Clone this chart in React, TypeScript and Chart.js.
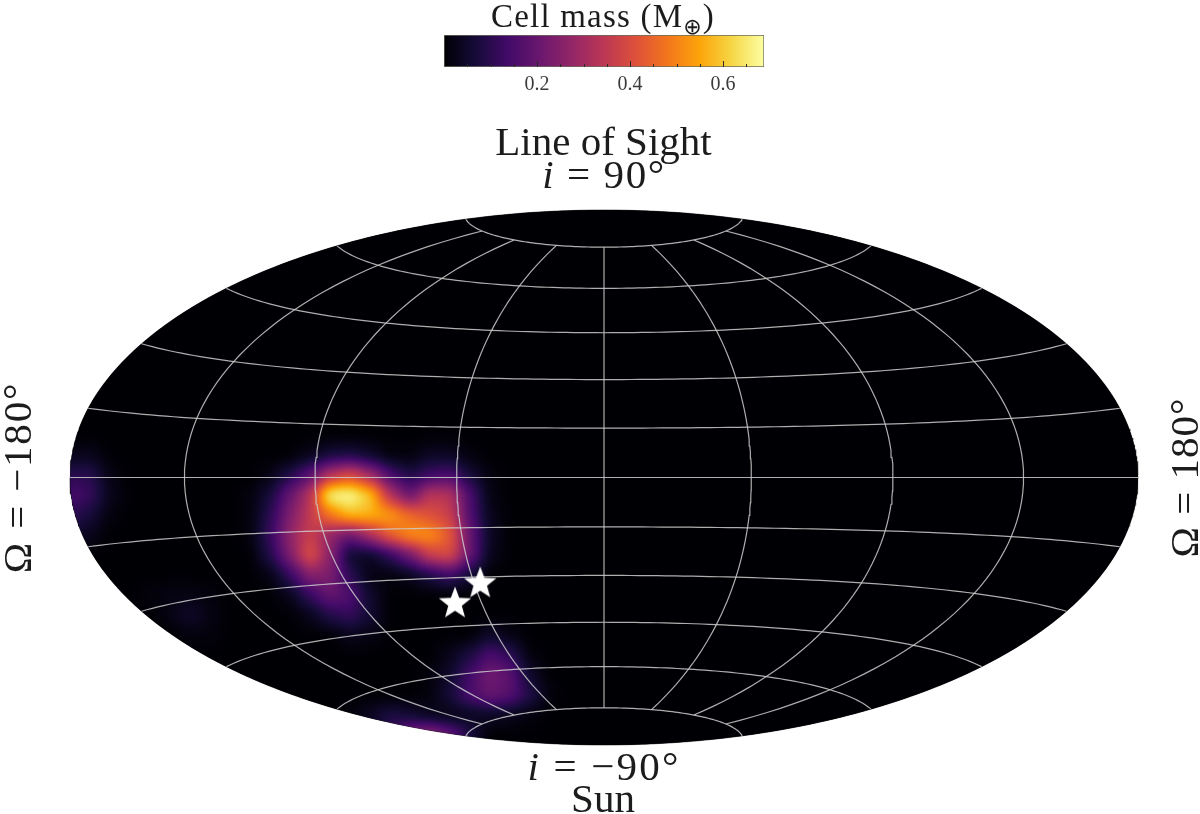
import React, { useEffect, useRef } from "react";
import { Chart, registerables } from "chart.js";

Chart.register(...registerables);

const FONT = '"Liberation Serif", serif';
const TEXT = "#1c1c1c";

// Colour bar
const cbarMin = 0;
const cbarMax = 0.688;
const inferno: number[][] = [
  [0, 0, 4], [22, 11, 57], [66, 10, 104], [106, 23, 110], [147, 38, 103], [188, 55, 84],
  [221, 81, 58], [243, 118, 27], [252, 165, 10], [246, 215, 70], [252, 255, 164],
];

// Graticule (degrees)
const latLines = [-75, -60, -45, -30, -15, 0, 15, 30, 45, 60, 75];
const lonLines = [-135, -90, -45, 0, 45, 90, 135];
const lonCapDeg = 75;

// Two stars (Omega, i in degrees)
const starLon = [-42.9, -54.9];
const starLat = [-32.0, -37.9];

// Heat-map cell centres in normalised projection coordinates
const heatU = [-1.0, -0.9625, -0.9251, -0.8876, -0.8502, -0.8127, -0.7753, -0.7378, -0.7004, -0.6629, -0.6255, -0.588, -0.5506, -0.5131, -0.4757, -0.4382, -0.4007, -0.3633, -0.3258, -0.2884, -0.2509, -0.2135, -0.176, -0.1386, -0.1011, -0.0637];
const heatV = [0.0841, 0.0093, -0.0654, -0.1402, -0.215, -0.2897, -0.3645, -0.4393, -0.514, -0.5888, -0.6636, -0.7383, -0.8131, -0.8879, -0.9626];

// Cell mass, one row per heatV, one column per heatU
const heatRows: number[][] = [
  [0.03, 0.03, 0, 0, 0, 0, 0, 0, 0, 0, 0, 0, 0.03, 0.07, 0.08, 0.05, 0.01, 0.01, 0.04, 0.04, 0.01, 0, 0, 0, 0, 0],
  [0.1, 0.1, 0.02, 0, 0, 0, 0, 0, 0, 0, 0.02, 0.09, 0.18, 0.33, 0.4, 0.3, 0.15, 0.08, 0.13, 0.15, 0.07, 0.01, 0, 0, 0, 0],
  [0.15, 0.12, 0.03, 0, 0, 0, 0, 0, 0, 0.01, 0.07, 0.2, 0.33, 0.68, 0.98, 0.6, 0.33, 0.2, 0.34, 0.33, 0.15, 0.02, 0, 0, 0, 0],
  [0.11, 0.07, 0.01, 0, 0, 0, 0, 0, 0, 0.01, 0.1, 0.24, 0.35, 0.48, 0.58, 0.57, 0.54, 0.46, 0.41, 0.37, 0.16, 0.03, 0, 0, 0, 0],
  [0.05, 0.03, 0, 0, 0, 0, 0, 0, 0, 0.01, 0.12, 0.27, 0.37, 0.27, 0.2, 0.31, 0.44, 0.52, 0.52, 0.43, 0.2, 0.04, 0, 0, 0, 0],
  [0, 0, 0, 0, 0, 0, 0, 0, 0, 0, 0.09, 0.24, 0.41, 0.26, 0.05, 0.04, 0.11, 0.22, 0.37, 0.4, 0.2, 0.03, 0, 0, 0, 0],
  [0, 0, 0, 0, 0, 0, 0, 0, 0, 0, 0.02, 0.12, 0.25, 0.24, 0.1, 0.02, 0.01, 0.03, 0.08, 0.13, 0.06, 0, 0, 0, 0, 0],
  [0, 0, 0, 0, 0.01, 0.02, 0.02, 0.01, 0, 0, 0, 0.03, 0.12, 0.2, 0.16, 0.05, 0, 0, 0, 0, 0, 0, 0, 0, 0, 0],
  [0, 0, 0, 0, 0, 0.02, 0.05, 0.02, 0, 0, 0, 0, 0.03, 0.09, 0.12, 0.06, 0, 0, 0, 0, 0, 0, 0, 0, 0, 0],
  [0, 0, 0, 0, 0, 0, 0.01, 0.01, 0, 0, 0, 0, 0, 0, 0.03, 0.02, 0, 0, 0, 0, 0, 0.05, 0.02, 0, 0, 0],
  [0, 0, 0, 0, 0, 0, 0, 0, 0, 0, 0, 0, 0, 0, 0, 0, 0, 0, 0, 0.03, 0.08, 0.15, 0.11, 0.01, 0, 0],
  [0, 0, 0, 0, 0, 0, 0, 0, 0, 0, 0, 0, 0, 0, 0, 0, 0, 0, 0.01, 0.05, 0.14, 0.22, 0.18, 0.05, 0, 0],
  [0, 0, 0, 0, 0, 0, 0, 0, 0, 0, 0, 0, 0, 0, 0, 0, 0, 0, 0.01, 0.07, 0.15, 0.2, 0.17, 0.09, 0.01, 0],
  [0, 0, 0, 0, 0, 0, 0, 0, 0, 0, 0, 0, 0, 0, 0.01, 0.04, 0.08, 0.06, 0.03, 0.02, 0.03, 0.04, 0.03, 0.01, 0, 0],
  [0, 0, 0, 0, 0, 0, 0, 0, 0, 0, 0, 0, 0, 0, 0, 0, 0.12, 0.24, 0.28, 0.2, 0.08, 0, 0, 0, 0, 0],
];

// Labels
const titleTop = "Line of Sight";
const labelTop = "90°";
const labelBottom = "−90°";
const titleBottom = "Sun";
const labelLeft = "Ω = −180°";
const labelRight = "Ω = 180°";
const cbarTitle = "Cell mass (M";

const D2R = Math.PI / 180;
function hammer(lonDeg: number, latDeg: number) {
  const lon = lonDeg * D2R;
  const lat = latDeg * D2R;
  const d = Math.sqrt(1 + Math.cos(lat) * Math.cos(lon / 2));
  return { x: (Math.cos(lat) * Math.sin(lon / 2)) / d, y: Math.sin(lat) / d };
}
function steps(a: number, b: number, n: number) {
  return Array.from({ length: n + 1 }, (_, i) => a + ((b - a) * i) / n);
}

function lutColor(t: number) {
  const c = Math.max(0, Math.min(1, t)) * (inferno.length - 1);
  const i = Math.min(inferno.length - 2, Math.floor(c));
  const f = c - i;
  return inferno[i].map((a, k) => a + (inferno[i + 1][k] - a) * f);
}

function ellipsePath(ctx: CanvasRenderingContext2D, chart: any) {
  const { x, y } = chart.scales;
  const cx = x.getPixelForValue(0);
  const cy = y.getPixelForValue(0);
  ctx.beginPath();
  ctx.ellipse(cx, cy, x.getPixelForValue(1) - cx, cy - y.getPixelForValue(1), 0, 0, Math.PI * 2);
}

const heatPlugin = {
  id: "heatLayer",
  beforeDatasetDraw(chart: any, args: any) {
    const ds = chart.data.datasets[args.index];
    if (ds.label !== "Cell mass") return;
    const W = chart.width;
    const H = chart.height;
    const { x, y } = chart.scales;
    const raw = document.createElement("canvas");
    raw.width = W;
    raw.height = H;
    const r = raw.getContext("2d")!;
    r.fillStyle = "#000";
    r.fillRect(0, 0, W, H);
    const sx = Math.abs(x.getPixelForValue(heatU[1]) - x.getPixelForValue(heatU[0]));
    const sy = Math.abs(y.getPixelForValue(heatV[1]) - y.getPixelForValue(heatV[0]));
    for (const c of ds.data) {
      if (c.v <= 0) continue;
      const g = Math.round(Math.min(1, c.v / cbarMax) * 255);
      r.fillStyle = `rgb(${g},${g},${g})`;
      r.fillRect(x.getPixelForValue(c.x) - sx / 2, y.getPixelForValue(c.y) - sy / 2, sx + 0.5, sy + 0.5);
    }
    const out = document.createElement("canvas");
    out.width = W;
    out.height = H;
    const o = out.getContext("2d", { willReadFrequently: true })!;
    o.filter = "blur(7.5px)";
    o.drawImage(raw, 0, 0);
    o.filter = "none";
    const img = o.getImageData(0, 0, W, H);
    const lut = Array.from({ length: 256 }, (_, i) => lutColor(i / 255));
    const d = img.data;
    for (let i = 0; i < d.length; i += 4) {
      const c = lut[d[i]];
      d[i] = c[0];
      d[i + 1] = c[1];
      d[i + 2] = c[2];
      d[i + 3] = 255;
    }
    o.putImageData(img, 0, 0);
    const ctx = chart.ctx;
    ctx.save();
    ellipsePath(ctx, chart);
    ctx.clip();
    ctx.drawImage(out, 0, 0);
    ctx.restore();
  },
};

function drawMixed(ctx: any, cx: number, baseline: number, size: number, main: string, spacing: number) {
  const italic = `italic ${size}px ${FONT}`;
  const regular = `${size}px ${FONT}`;
  const prefix = "i";
  const mid = " = ";
  ctx.letterSpacing = `${spacing}px`;
  ctx.font = italic;
  const w1 = ctx.measureText(prefix).width;
  ctx.font = regular;
  const w2 = ctx.measureText(mid + main).width;
  let px = cx - (w1 + w2) / 2;
  ctx.textAlign = "left";
  ctx.font = italic;
  ctx.fillText(prefix, px, baseline);
  px += w1;
  ctx.font = regular;
  ctx.fillText(mid + main, px, baseline);
  ctx.letterSpacing = "0px";
}

const labelPlugin = {
  id: "mapLabels",
  afterDraw(chart: any) {
    const ctx = chart.ctx;
    ctx.save();
    ctx.fillStyle = TEXT;
    ctx.textBaseline = "alphabetic";
    ctx.textAlign = "center";
    ctx.font = `41px ${FONT}`;
    ctx.fillText(titleTop, 603.5, 155);
    drawMixed(ctx, 604, 188, 41, labelTop, 1.6);
    drawMixed(ctx, 604, 780, 41, labelBottom, 2.2);
    ctx.textAlign = "center";
    ctx.font = `41px ${FONT}`;
    ctx.fillText(titleBottom, 603, 812);
    ctx.save();
    ctx.translate(31, 477.5);
    ctx.rotate(-Math.PI / 2);
    ctx.letterSpacing = "1.8px";
    ctx.fillText(labelLeft, 0, 0);
    ctx.restore();
    ctx.save();
    ctx.translate(1198, 477.5);
    ctx.rotate(-Math.PI / 2);
    ctx.letterSpacing = "1px";
    ctx.fillText(labelRight, 0, 0);
    ctx.restore();
    ctx.restore();
  },
};

const cbarPlugin = {
  id: "cbarExtras",
  afterDraw(chart: any) {
    const ctx = chart.ctx;
    const s = chart.scales.x;
    const bottom = chart.chartArea.bottom;
    ctx.save();
    ctx.strokeStyle = "#2a2a2a";
    ctx.lineWidth = 1;
    for (const t of s.ticks) {
      if (t.value <= cbarMin) continue;
      const px = Math.round(s.getPixelForValue(t.value)) + 0.5;
      const len = t.label ? 6 : 3;
      ctx.beginPath();
      ctx.moveTo(px, bottom);
      ctx.lineTo(px, bottom - len);
      ctx.stroke();
    }
    ctx.fillStyle = TEXT;
    ctx.textBaseline = "alphabetic";
    ctx.textAlign = "left";
    const size = 33;
    ctx.letterSpacing = "1.2px";
    ctx.font = `${size}px ${FONT}`;
    const w = ctx.measureText(cbarTitle).width;
    ctx.font = `22px "DejaVu Sans", ${FONT}`;
    const w2 = ctx.measureText("⊕").width;
    ctx.font = `${size}px ${FONT}`;
    const w3 = ctx.measureText(")").width;
    let px = 603 - (w + w2 + w3) / 2;
    ctx.fillText(cbarTitle, px, 27);
    px += w;
    ctx.font = `22px "DejaVu Sans", ${FONT}`;
    ctx.fillText("⊕", px, 34);
    px += w2;
    ctx.font = `${size}px ${FONT}`;
    ctx.fillText(")", px, 27);
    ctx.restore();
  },
};

function makeStar(R: number) {
  const c = document.createElement("canvas");
  const s = Math.ceil(R * 2 + 2);
  c.width = s;
  c.height = s;
  const g = c.getContext("2d")!;
  g.fillStyle = "#fff";
  g.beginPath();
  for (let i = 0; i < 10; i++) {
    const r = i % 2 === 0 ? R : R * 0.42;
    const a = -Math.PI / 2 + (i * Math.PI) / 5;
    const X = s / 2 + r * Math.cos(a);
    const Y = s / 2 + r * Math.sin(a);
    if (i === 0) g.moveTo(X, Y);
    else g.lineTo(X, Y);
  }
  g.closePath();
  g.fill();
  return c;
}

export default function App() {
  const mapRef = useRef<HTMLCanvasElement>(null);
  const barRef = useRef<HTMLCanvasElement>(null);

  useEffect(() => {
    const gridStyle = {
      type: "scatter" as const,
      showLine: true,
      borderColor: "rgba(205,205,205,0.85)",
      borderWidth: 1.2,
      pointRadius: 0,
      fill: false,
      order: 1,
    };
    const latSets = latLines.map((lat) => ({
      ...gridStyle,
      label: `lat ${lat}`,
      data: steps(-180, 180, 120).map((lon) => hammer(lon, lat)),
    }));
    const lonSets = lonLines.map((lon) => ({
      ...gridStyle,
      label: `lon ${lon}`,
      data: steps(-lonCapDeg, lonCapDeg, 80).map((lat) => hammer(lon, lat)),
    }));
    const cells: { x: number; y: number; v: number }[] = [];
    heatRows.forEach((row, j) => row.forEach((v, i) => cells.push({ x: heatU[i], y: heatV[j], v })));

    const topArc = steps(0, 180, 360).map((a) => ({ x: -Math.cos(a * D2R), y: Math.sin(a * D2R) }));
    const botArc = topArc.map((p) => ({ x: p.x, y: -p.y }));

    const map = new Chart(mapRef.current!, {
      type: "scatter",
      data: {
        datasets: [
          {
            label: "Stars",
            data: starLon.map((lon, i) => hammer(lon, starLat[i])),
            pointStyle: makeStar(17) as any,
            pointRadius: 17,
            order: 0,
          },
          ...latSets,
          ...lonSets,
          { label: "Cell mass", data: cells as any, pointRadius: 0, order: 2 },
          {
            label: "sky top",
            data: topArc,
            showLine: true,
            pointRadius: 0,
            borderColor: "rgb(0,0,4)",
            borderWidth: 0.5,
            backgroundColor: "rgb(0,0,4)",
            fill: "+1",
            order: 3,
          } as any,
          {
            label: "sky bottom",
            data: botArc,
            showLine: true,
            pointRadius: 0,
            borderColor: "rgb(0,0,4)",
            borderWidth: 0.5,
            fill: false,
            order: 3,
          } as any,
        ],
      },
      options: {
        responsive: false,
        animation: false,
        devicePixelRatio: 1,
        clip: false as any,
        layout: { padding: { left: 70, right: 62, top: 210, bottom: 69 } },
        plugins: { legend: { display: false }, tooltip: { enabled: false }, title: { display: false } },
        scales: {
          x: { type: "linear", min: -1, max: 1, display: false },
          y: { type: "linear", min: -1, max: 1, display: false },
        },
      },
      plugins: [heatPlugin, labelPlugin],
    });

    const bar = new Chart(barRef.current!, {
      type: "bar",
      data: {
        labels: ["Cell mass"],
        datasets: [
          {
            data: [[cbarMin, cbarMax]] as any,
            barPercentage: 1,
            categoryPercentage: 1,
            borderWidth: 1,
            borderColor: "#6b6b5f",
            borderSkipped: false,
            backgroundColor: (c: any) => {
              const a = c.chart.chartArea;
              if (!a) return "#000";
              const g = c.chart.ctx.createLinearGradient(a.left, 0, a.right, 0);
              inferno.forEach((col, i) => g.addColorStop(i / (inferno.length - 1), `rgb(${col.join(",")})`));
              return g;
            },
          },
        ],
      },
      options: {
        indexAxis: "y",
        responsive: false,
        animation: false,
        devicePixelRatio: 1,
        layout: { padding: { left: 444, right: 436, top: 35, bottom: 0 } },
        plugins: { legend: { display: false }, tooltip: { enabled: false } },
        scales: {
          y: { display: false },
          x: {
            type: "linear",
            min: cbarMin,
            max: cbarMax,
            afterFit: (s: any) => {
              s.height = 43;
            },
            grid: { display: false },
            border: { display: false },
            ticks: {
              stepSize: 0.05,
              includeBounds: false,
              autoSkip: false,
              maxRotation: 0,
              padding: -2,
              color: "#3a3a3a",
              font: { family: FONT, size: 20 },
              callback: (v: any) => {
                const n = Math.round(Number(v) * 100);
                return n > 0 && n % 20 === 0 ? (n / 100).toFixed(1) : "";
              },
            },
          },
        },
      },
      plugins: [cbarPlugin],
    });

    return () => {
      map.destroy();
      bar.destroy();
    };
  }, []);

  return (
    <div style={{ position: "absolute", left: 0, top: 0, width: 1200, height: 814, overflow: "hidden", background: "#fff" }}>
      <canvas ref={mapRef} width={1200} height={814} style={{ position: "absolute", left: 0, top: 0 }} />
      <canvas ref={barRef} width={1200} height={110} style={{ position: "absolute", left: 0, top: 0 }} />
    </div>
  );
}
